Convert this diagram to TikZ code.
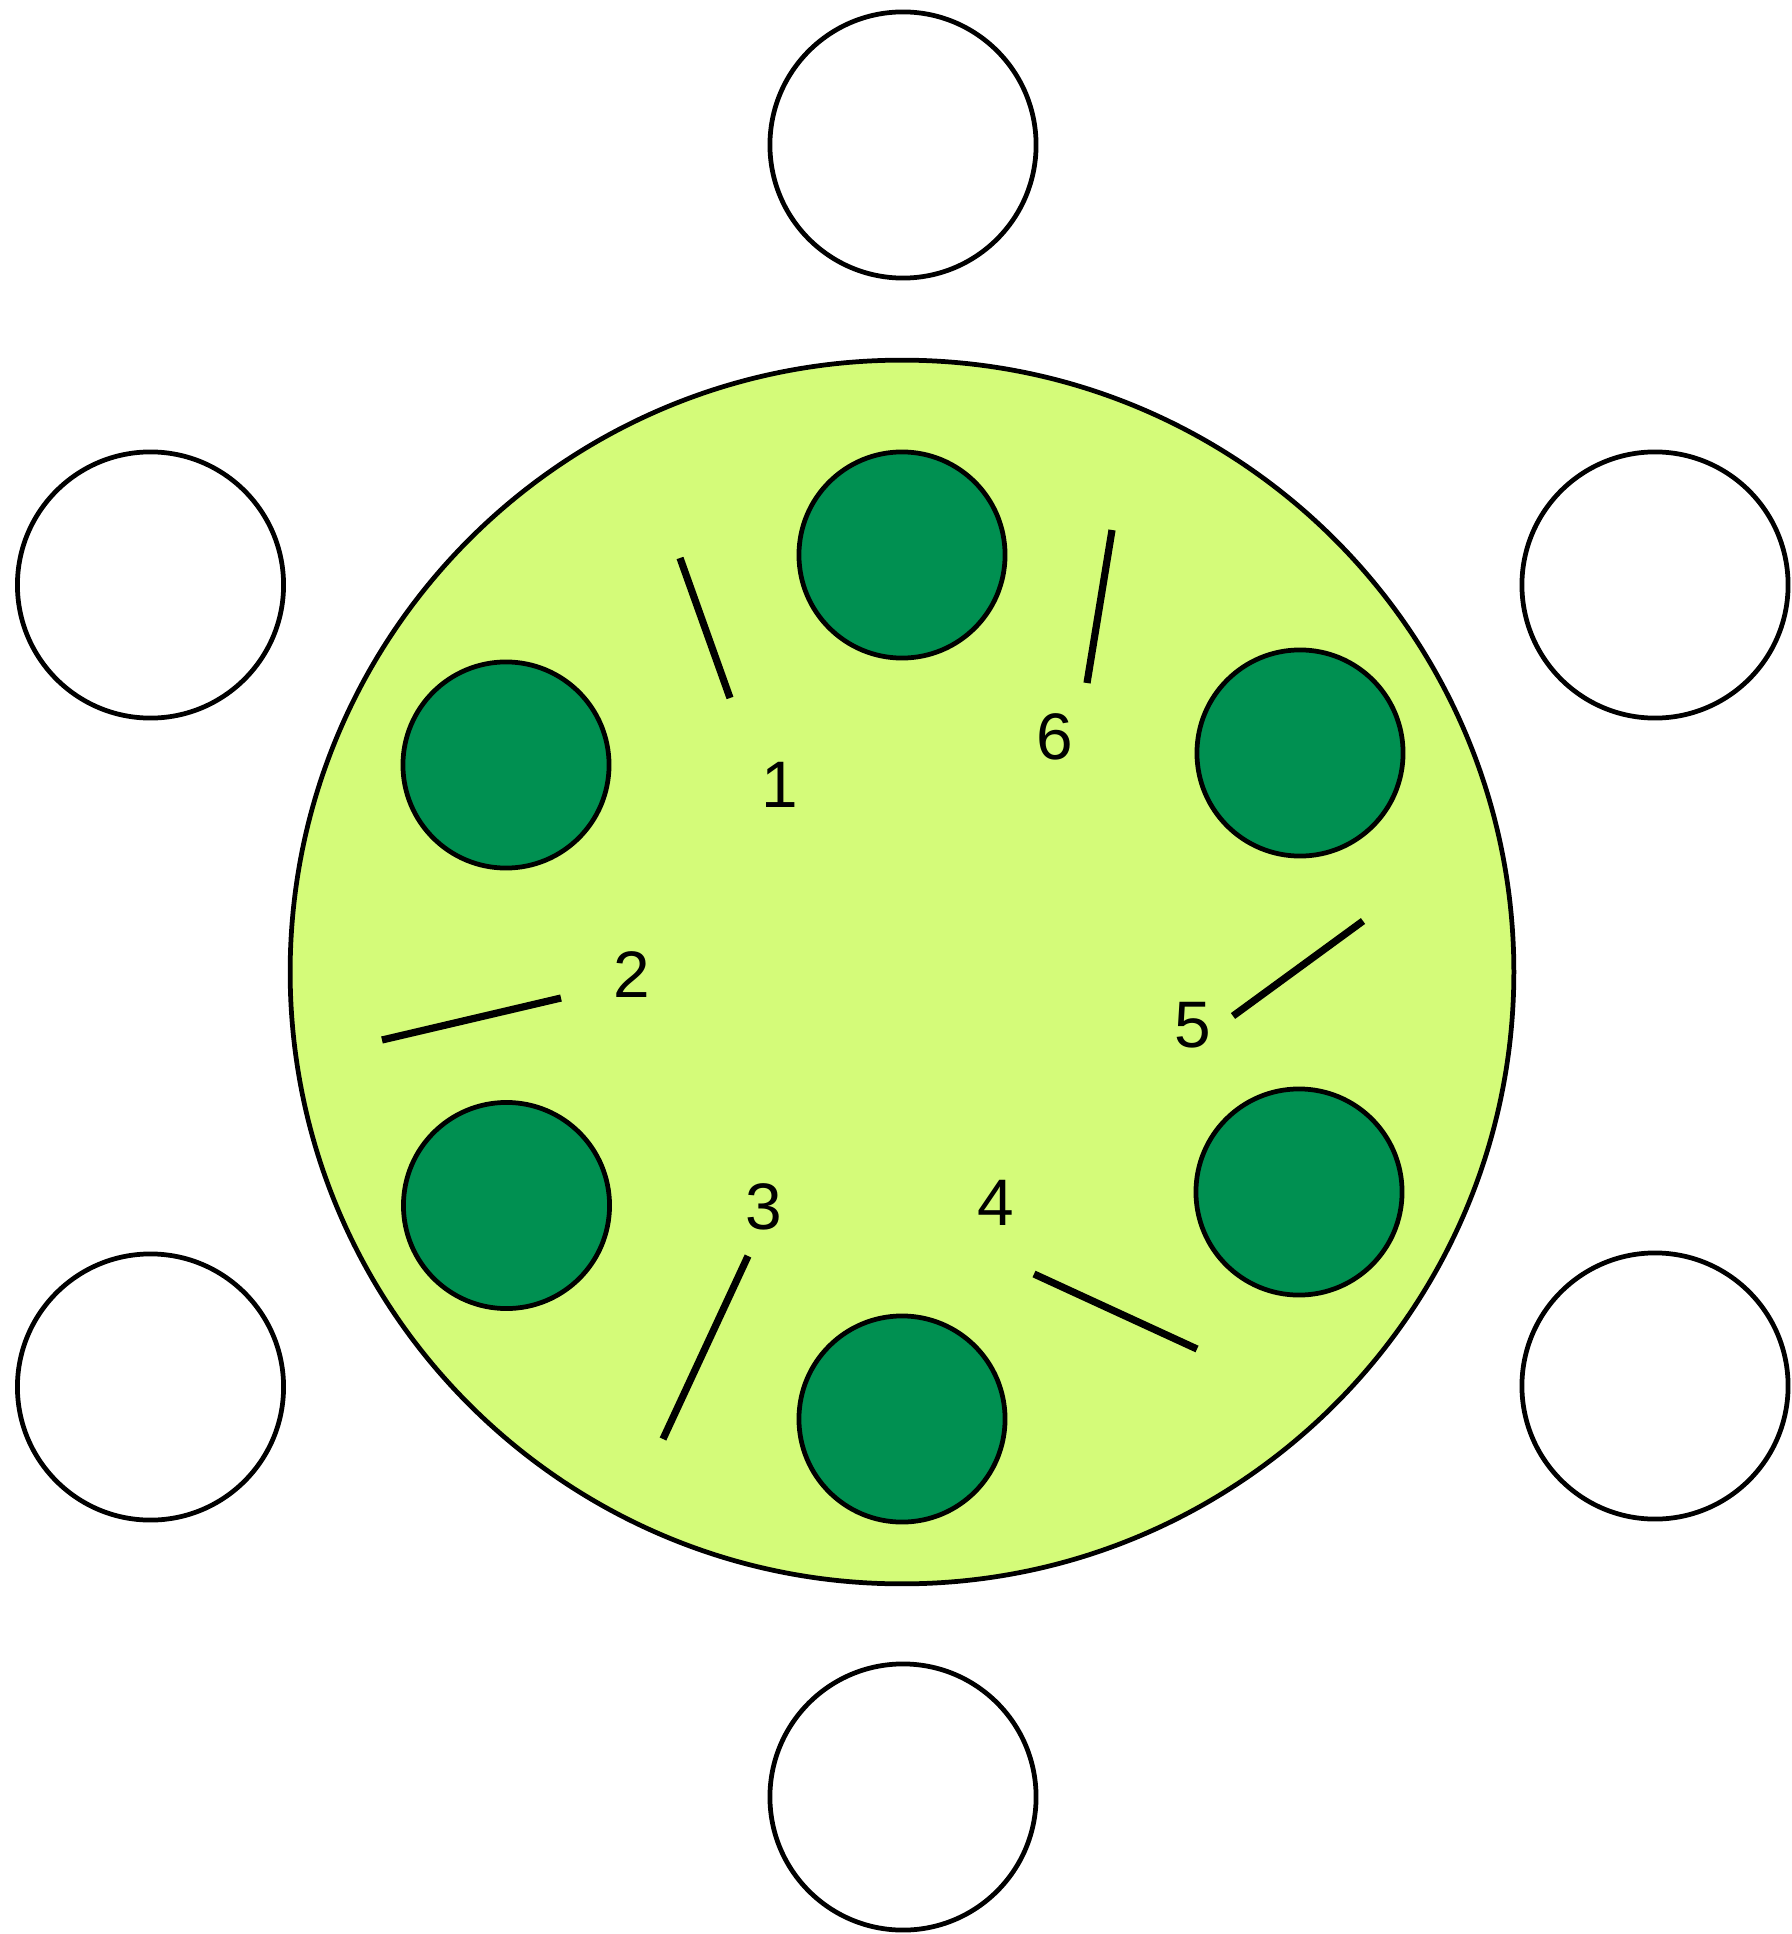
\documentclass[tikz,border=0pt]{standalone}
\usepackage{fontspec}
\setmainfont{Liberation Sans}
\definecolor{lightg}{HTML}{D4FB79}
\definecolor{darkg}{HTML}{009051}
\begin{document}
\begin{tikzpicture}[x=0.01cm,y=-0.01cm,
  plate/.style={circle,draw=black,line width=1.35pt,fill=lightg,inner sep=0pt,minimum size=12.23cm},
  seat/.style={circle,draw=black,line width=1.35pt,fill=white,inner sep=0pt,minimum size=2.66cm},
  well/.style={circle,draw=black,line width=1.35pt,fill=darkg,inner sep=0pt,minimum size=2.06cm},
  lbl/.style={inner sep=0pt,font=\fontsize{18.7pt}{22pt}\selectfont},
  bar/.style={line width=2.05pt,line cap=butt}]
\useasboundingbox (0,0) rectangle (1791,1934);
% outer white circles
\node[seat] (wt) at (903,145) {};
\node[seat] (wlt) at (150.5,585) {};
\node[seat] (wrt) at (1655,585) {};
\node[seat] (wlb) at (150.5,1387) {};
\node[seat] (wrb) at (1655,1386) {};
\node[seat] (wb) at (903,1797) {};
% big disc
\node[plate] (big) at (902,972) {};
% dark wells
\node[well] (dt) at (902,555) {};
\node[well] (dul) at (506,765) {};
\node[well] (dur) at (1300,753) {};
\node[well] (dll) at (506.5,1205.5) {};
\node[well] (dlr) at (1299,1192) {};
\node[well] (db) at (902,1419) {};
% labels
\node[lbl] (l1) at (779.6,784.5) {1};
\node[lbl] (l2) at (632,975) {2};
\node[lbl] (l3) at (764,1207) {3};
\node[lbl] (l4) at (996,1203) {4};
\node[lbl] (l5) at (1193,1025) {5};
\node[lbl] (l6) at (1055,737) {6};
% bar end points
\coordinate (a1) at (680,558); \coordinate (b1) at (730,698);
\coordinate (a2) at (382,1040); \coordinate (b2) at (561,998);
\coordinate (a3) at (663,1439); \coordinate (b3) at (748,1256);
\coordinate (a4) at (1034,1274); \coordinate (b4) at (1197,1349);
\coordinate (a5) at (1233,1016); \coordinate (b5) at (1363,921);
\coordinate (a6) at (1112,530); \coordinate (b6) at (1087,683);
\draw[bar] (a1) -- (b1);
\draw[bar] (a2) -- (b2);
\draw[bar] (a3) -- (b3);
\draw[bar] (a4) -- (b4);
\draw[bar] (a5) -- (b5);
\draw[bar] (a6) -- (b6);
\end{tikzpicture}
\end{document}
